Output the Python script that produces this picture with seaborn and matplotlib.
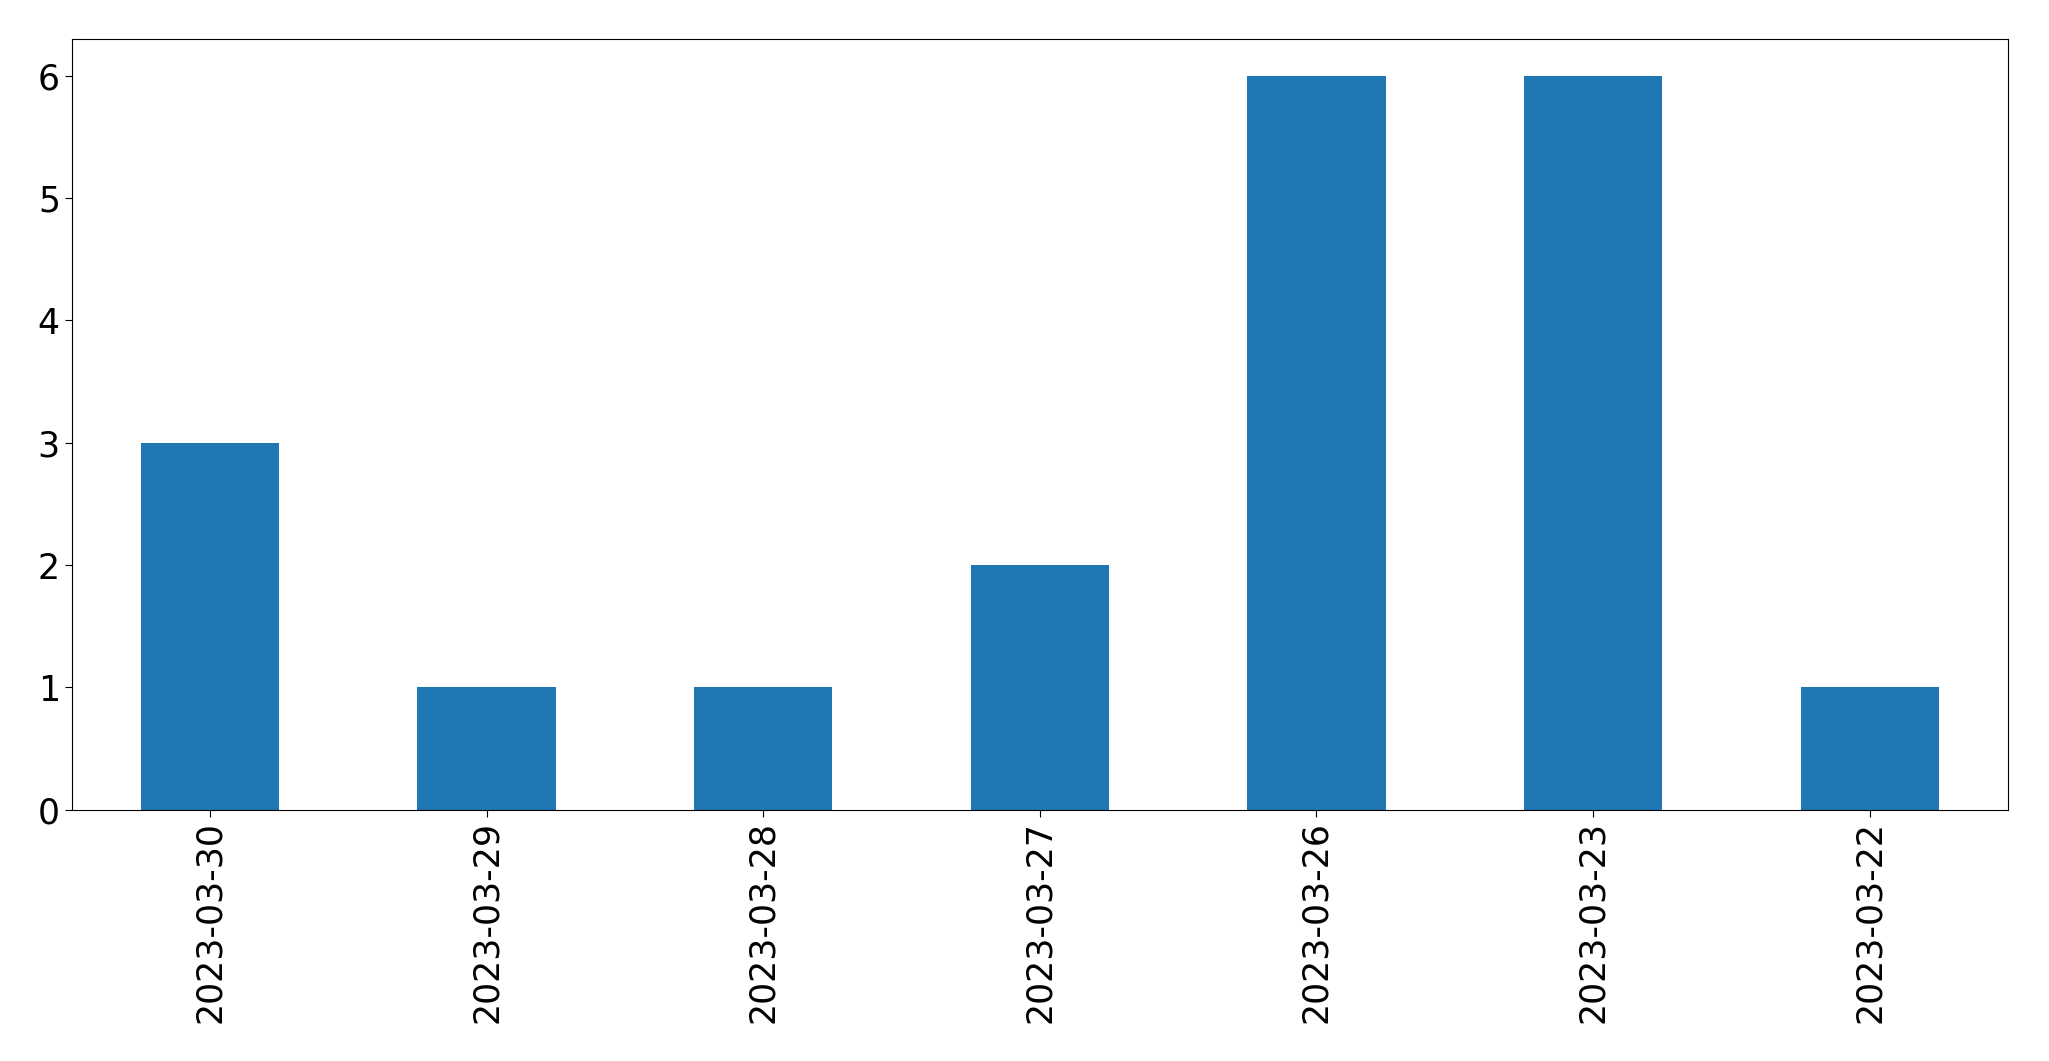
import matplotlib
matplotlib.use("Agg")
import matplotlib.pyplot as plt
import seaborn as sns
import pandas as pd

dates = ["2023-03-30", "2023-03-29", "2023-03-28", "2023-03-27",
         "2023-03-26", "2023-03-23", "2023-03-22"]
counts = [3, 1, 1, 2, 6, 6, 1]

df = pd.DataFrame({"date": dates, "count": counts})

fig = plt.figure(figsize=(20.49, 10.61), dpi=100)
ax = fig.add_axes([0.035, 0.237, 0.945, 0.726])
sns.barplot(data=df, x="date", y="count", order=dates, color="#1f77b4",
            saturation=1, width=0.5, ax=ax)
ax.set_xlim(-0.5, len(dates) - 0.5)
ax.set_ylim(0, 6.3)
ax.set_xlabel("")
ax.set_ylabel("")
ax.tick_params(axis="both", labelsize=25, length=5)
plt.setp(ax.get_xticklabels(), rotation=90)
for s in ax.spines.values():
    s.set_visible(True)
fig.savefig("out.png", dpi=100)
